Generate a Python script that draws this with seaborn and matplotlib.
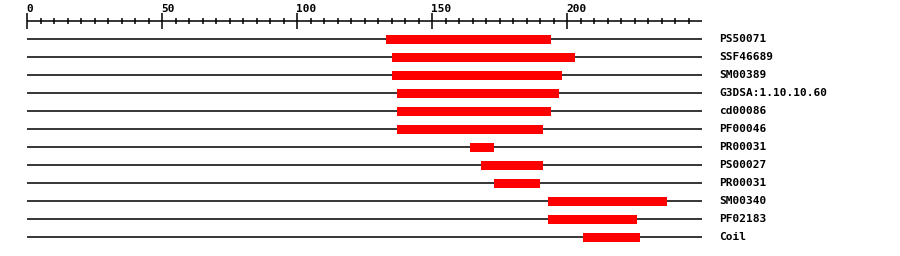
import matplotlib
matplotlib.use("Agg")
import matplotlib.pyplot as plt
import seaborn as sns
import pandas as pd
import numpy as np

# data
labels = ["PS50071", "SSF46689", "SM00389", "G3DSA:1.10.10.60", "cd00086", "PF00046",
          "PR00031", "PS00027", "PR00031", "SM00340", "PF02183", "Coil"]
starts = [133, 135, 135, 137, 137, 137, 164, 168, 173, 193, 193, 206]
ends = [194, 203, 198, 197, 194, 191, 173, 191, 190, 237, 226, 227]
seq_length = 250
tick_labels = ["0", "50", "100", "150", "200"]

sns.set_theme(style="white")
plt.rcParams['font.family'] = ['DejaVu Sans Mono']

fig = plt.figure(figsize=(9, 2.56), dpi=100)
ax = fig.add_axes([0, 0, 1, 1])
ax.set_xlim(-10, (900 - 27) / 2.7 - 10 + 10)
ax.set_ylim(256, 0)
ax.axis("off")

row_y = [39 + 18 * i for i in range(len(labels))]
df = pd.DataFrame({"row": row_y, "start": starts, "len": np.array(ends) - np.array(starts),
                   "label": labels})

# track lines
ax.hlines(df["row"], 0, seq_length, color="black", lw=1.1, zorder=1)

# domain bars
sns.barplot(data=df, x="len", y="row", orient="h", native_scale=True, width=0.5,
            left=df["start"], color="#ff0000", saturation=1, ax=ax, zorder=2,
            linewidth=0, errorbar=None)
ax.set_xlim(-10, (900 - 27) / 2.7)
ax.set_ylim(256, 0)
ax.axis("off")

# labels
for y, lab in zip(df["row"], df["label"]):
    ax.text(seq_length + 6.3, y, lab, ha="left", va="center", fontsize=8,
            fontweight="bold", color="black")

# ruler
axis_y = 20.5
ax.hlines(axis_y, 0, seq_length, color="black", lw=1.1)
for t in range(0, seq_length, 5):
    if t % 50 == 0:
        ax.vlines(t, 13, 28.5, color="black", lw=1.1)
    else:
        ax.vlines(t, 17.5, 24, color="black", lw=1.1)
for lab in tick_labels:
    ax.text(int(lab) - 0.3, 8.5, lab, ha="left", va="center", fontsize=8,
            fontweight="bold", color="black")

fig.savefig("out.png", dpi=100)
